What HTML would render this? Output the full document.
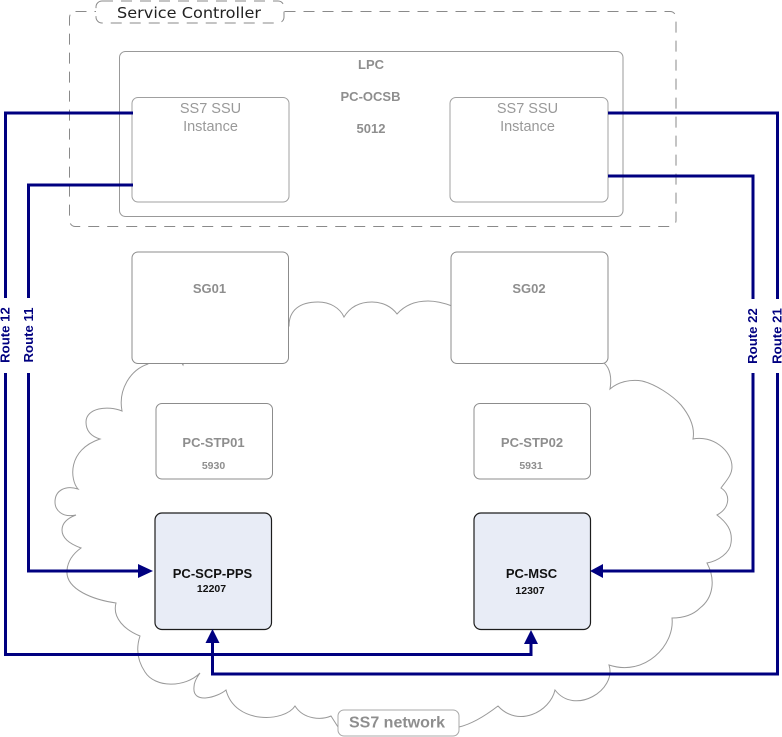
<!DOCTYPE html>
<html>
<head>
<meta charset="utf-8">
<style>
html,body{margin:0;padding:0;background:#fff;width:782px;height:737px;overflow:hidden}
svg{display:block;font-family:"Liberation Sans",sans-serif}
.b{fill:#fff;stroke:#8c8c8c;stroke-width:1}
.d{fill:#e8ecf6;stroke:#1c1c1c;stroke-width:1.2}
.t{font-weight:bold;fill:#8e8e8e;text-anchor:middle}
.k{font-weight:bold;fill:#111;text-anchor:middle}
.s{fill:#999;text-anchor:middle;font-size:14.5px}
.r{font-weight:bold;fill:#000080;font-size:13.2px;text-anchor:middle}
.c{fill:none;stroke:#000080;stroke-width:3;stroke-linejoin:miter}
</style>
</head>
<body>
<svg width="782" height="737" viewBox="0 0 782 737" xmlns="http://www.w3.org/2000/svg">
<rect x="69.5" y="11.5" width="606.5" height="215" rx="6" fill="#fff" stroke="#8a8a8a" stroke-dasharray="11 8"/>
<rect x="96" y="1" width="188" height="22" rx="6" fill="#fff" stroke="#8a8a8a" stroke-dasharray="11 8"/>
<text x="117" y="18" font-family="'DejaVu Sans',sans-serif" font-size="15.5" fill="#222" textLength="144" lengthAdjust="spacingAndGlyphs">Service Controller</text>

<rect x="119.5" y="51.5" width="503.5" height="165" rx="6" fill="#fff" stroke="#999"/>
<text class="t" x="371" y="69" font-size="13">LPC</text>
<text class="t" x="370.5" y="101" font-size="13">PC-OCSB</text>
<text class="t" x="371" y="133" font-size="13">5012</text>

<rect x="132" y="97.5" width="157" height="104.5" rx="6" fill="#fff" stroke="#a0a0a0"/>
<text class="s" x="210.5" y="113">SS7 SSU</text>
<text class="s" x="210.5" y="131">Instance</text>
<rect x="450" y="97.5" width="158" height="104.5" rx="6" fill="#fff" stroke="#a0a0a0"/>
<text class="s" x="527.5" y="113">SS7 SSU</text>
<text class="s" x="527.5" y="131">Instance</text>

<path fill="#fff" stroke="#999" stroke-width="1" d="M289,326 C289,310 300,302 318,302 C330,302 340,308 344,317 C350,307 360,302 372,302 C383,302 392,307 397,314 C405,305 416,301 428,301 C436,301 444,303 452,306 L604,363 C610,368 612,378 610,389 C618,382 630,379 642,381 C655,384 672,395 681,405 C690,416 695,428 693,439 C712,435 732,450 732,467 C732,475 726,481 721,488 C731,494 730,508 717,515 C726,522 733,530 731,543 C730,553 718,561 707,563 C716,580 713,598 700,608 C692,616 682,618 672,618 C675,645 645,677 609,665 C617,690 575,716 555,690 C550,712 518,728 498,706 C485,716 472,724 459,727 L338,727 L331,716 C322,720 304,720 295,706 C285,722 235,725 226,690 C218,697 192,705 194,687 C194,682 197,677 200,673 C185,688 155,688 145,672 C137,660 136,648 140,636 C125,630 112,618 116,603 C95,600 65,590 67,570 C68,560 74,553 81,548 C70,544 62,538 62,530 C62,523 68,518 76,515 C62,518 55,510 55,502 C55,490 66,485 78,489 C70,480 67,450 100,439 C90,436 86,430 86,422 C86,408 108,405 122,411 C118,390 130,370 148,364 L150,360 L180,360 L183,365 L184,360 L280,340 Z"/>

<rect x="132" y="252" width="156.5" height="111.5" rx="6" class="b"/>
<text class="t" x="209.5" y="293" font-size="13">SG01</text>
<rect x="451" y="252" width="157" height="111.5" rx="6" class="b"/>
<text class="t" x="529" y="293" font-size="13">SG02</text>

<rect x="156" y="403.5" width="116.5" height="75.5" rx="6" class="b"/>
<text class="t" x="213.5" y="447" font-size="13">PC-STP01</text>
<text class="t" x="213.5" y="469" font-size="10.5">5930</text>
<rect x="474" y="403.5" width="116.5" height="75.5" rx="6" class="b"/>
<text class="t" x="532" y="447" font-size="13">PC-STP02</text>
<text class="t" x="531" y="469" font-size="10.5">5931</text>

<rect x="155" y="513" width="116.5" height="116.5" rx="7" class="d"/>
<text class="k" x="212.5" y="578" font-size="13">PC-SCP-PPS</text>
<text class="k" x="211.5" y="592" font-size="10.5">12207</text>
<rect x="474" y="513" width="116.5" height="116.5" rx="7" class="d"/>
<text class="k" x="531.5" y="578" font-size="13">PC-MSC</text>
<text class="k" x="530" y="594" font-size="10.5">12307</text>

<rect x="338" y="710" width="121" height="26" rx="6" fill="#fff" stroke="#a8a8a8"/>
<text class="t" x="397" y="727.5" font-size="16">SS7 network</text>

<path class="c" d="M133,113 H5.5 V654.5 H531 V640"/>
<path class="c" d="M133,185 H28.5 V571 H140"/>
<path class="c" d="M608,113 H777.5 V674 H212.5 V640"/>
<path class="c" d="M608,176 H753 V571 H600"/>
<polygon fill="#000080" points="153,571 138,564 138,578"/>
<polygon fill="#000080" points="590,571 603,564 603,578"/>
<polygon fill="#000080" points="212.5,629 205.5,643 219.5,643"/>
<polygon fill="#000080" points="531,630 524,644 538,644"/>

<rect x="0" y="298" width="12" height="75" fill="#fff"/>
<rect x="22" y="298" width="13" height="75" fill="#fff"/>
<rect x="746" y="299" width="13" height="74" fill="#fff"/>
<rect x="771" y="299" width="11" height="74" fill="#fff"/>
<text class="r" transform="translate(9.5,335) rotate(-90)">Route 12</text>
<text class="r" transform="translate(33,335) rotate(-90)">Route 11</text>
<text class="r" transform="translate(757,336) rotate(-90)">Route 22</text>
<text class="r" transform="translate(781.5,336) rotate(-90)">Route 21</text>
</svg>
</body>
</html>
